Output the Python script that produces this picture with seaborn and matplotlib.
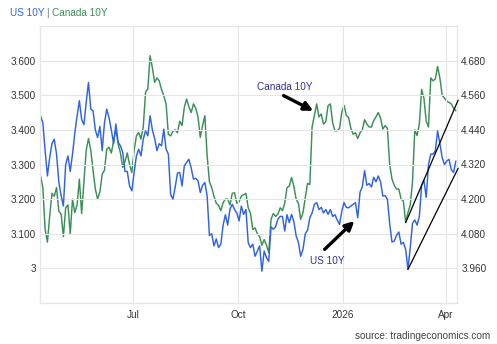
import numpy as np
import pandas as pd
import matplotlib
matplotlib.use('Agg')
import matplotlib.pyplot as plt
import seaborn as sns

# ---------------- data ----------------
start_date = '2025-04-11'
us_10y = [
    3.44, 3.42, 3.34, 3.267, 3.32, 3.36, 3.373, 3.33, 3.25, 3.21,
    3.18, 3.30, 3.325, 3.28, 3.33, 3.39, 3.44, 3.484, 3.43, 3.415,
    3.48, 3.537, 3.46, 3.455, 3.40, 3.378, 3.41, 3.34, 3.42, 3.46,
    3.435, 3.40, 3.36, 3.417, 3.364, 3.354, 3.335, 3.28, 3.28, 3.238,
    3.224, 3.277, 3.325, 3.344, 3.325, 3.373, 3.397, 3.383, 3.441, 3.40,
    3.375, 3.34, 3.36, 3.354, 3.402, 3.344, 3.33, 3.214, 3.20, 3.235,
    3.275, 3.277, 3.238, 3.296, 3.306, 3.315, 3.29, 3.258, 3.26, 3.253,
    3.219, 3.24, 3.248, 3.209, 3.095, 3.10, 3.065, 3.085, 3.06, 3.07,
    3.125, 3.155, 3.125, 3.171, 3.185, 3.17, 3.16, 3.137, 3.18, 3.156,
    3.17, 3.074, 3.06, 3.07, 3.035, 3.05, 3.065, 2.992, 3.05, 3.031,
    3.02, 3.12, 3.113, 3.12, 3.142, 3.15, 3.15, 3.108, 3.155, 3.132,
    3.156, 3.135, 3.094, 3.075, 3.035, 3.055, 3.10, 3.11, 3.146, 3.16,
    3.185, 3.19, 3.17, 3.176, 3.16, 3.17, 3.156, 3.17, 3.15, 3.155,
    3.14, 3.127, 3.165, 3.19, 3.176, 3.175, 3.18, 3.185, 3.19, 3.146,
    3.22, 3.235, 3.282, 3.24, 3.245, 3.235, 3.263, 3.25, 3.267, 3.25,
    3.209, 3.21, 3.20, 3.13, 3.076, 3.079, 3.095, 3.105, 3.07, 3.075,
    3.055, 2.997, 3.06, 3.13, 3.14, 3.125, 3.15, 3.24, 3.255, 3.205,
    3.30, 3.33, 3.33, 3.34, 3.397, 3.36, 3.32, 3.30, 3.31, 3.315,
    3.285, 3.277, 3.31,
]
canada_10y = [
    4.28, 4.24, 4.095, 4.051, 4.142, 4.22, 4.21, 4.24, 4.159, 4.148,
    4.07, 4.17, 4.18, 4.08, 4.20, 4.153, 4.18, 4.269, 4.15, 4.26,
    4.37, 4.41, 4.37, 4.30, 4.235, 4.20, 4.225, 4.286, 4.30, 4.373,
    4.38, 4.36, 4.40, 4.443, 4.39, 4.36, 4.31, 4.33, 4.36, 4.32,
    4.292, 4.37, 4.419, 4.431, 4.408, 4.45, 4.57, 4.582, 4.697, 4.655,
    4.605, 4.62, 4.61, 4.58, 4.558, 4.53, 4.425, 4.419, 4.435, 4.44,
    4.43, 4.47, 4.455, 4.518, 4.547, 4.52, 4.50, 4.53, 4.515, 4.485,
    4.414, 4.455, 4.489, 4.35, 4.26, 4.24, 4.21, 4.186, 4.178, 4.16,
    4.188, 4.20, 4.20, 4.18, 4.22, 4.222, 4.186, 4.19, 4.211, 4.215,
    4.22, 4.17, 4.15, 4.095, 4.10, 4.08, 4.07, 4.04, 4.06, 4.04,
    4.015, 4.13, 4.15, 4.14, 4.148, 4.17, 4.16, 4.186, 4.24, 4.245,
    4.275, 4.245, 4.20, 4.185, 4.13, 4.153, 4.205, 4.255, 4.25, 4.45,
    4.49, 4.53, 4.485, 4.495, 4.46, 4.468, 4.524, 4.53, 4.465, 4.437,
    4.437, 4.445, 4.50, 4.525, 4.49, 4.483, 4.445, 4.425, 4.43, 4.41,
    4.43, 4.44, 4.475, 4.46, 4.45, 4.45, 4.472, 4.485, 4.50, 4.48,
    4.443, 4.455, 4.445, 4.32, 4.27, 4.248, 4.235, 4.235, 4.20, 4.193,
    4.12, 4.153, 4.18, 4.26, 4.44, 4.42, 4.46, 4.58, 4.55, 4.47,
    4.45, 4.62, 4.61, 4.616, 4.66, 4.62, 4.56, 4.55, 4.54, 4.535,
    4.53, 4.515, 4.506,
]
dates = pd.date_range(start_date, periods=len(us_10y), freq='2D')

left_ticks = [3.0, 3.1, 3.2, 3.3, 3.4, 3.5, 3.6]
left_labels = ['3', '3.100', '3.200', '3.300', '3.400', '3.500', '3.600']
right_ticks = [3.96, 4.08, 4.20, 4.32, 4.44, 4.56, 4.68]
right_labels = ['3.960', '4.080', '4.200', '4.320', '4.440', '4.560', '4.680']
x_tick_dates = ['2025-07-01', '2025-10-01', '2026-01-01', '2026-04-01']
x_tick_labels = ['Jul', 'Oct', '2026', 'Apr']

# trend lines (in US-axis units)
trend_upper_dates = ['2026-02-25', '2026-04-12']
trend_upper_vals = [3.132, 3.486]
trend_lower_dates = ['2026-02-27', '2026-04-12']
trend_lower_vals = [2.997, 3.289]

# annotations (US-axis units)
ca_label_pos = ('2025-11-11', 3.524)
ca_arrow_tail = ('2025-11-10', 3.499)
ca_arrow_head = ('2025-12-06', 3.455)
us_label_pos = ('2025-12-18', 3.022)
us_arrow_tail = ('2025-12-16', 3.055)
us_arrow_head = ('2026-01-11', 3.137)

# ---------------- style ----------------
sns.set_theme(style='white')
plt.rcParams['font.family'] = ['Liberation Sans', 'DejaVu Sans']

US_COLOR = '#2f62e8'
CA_COLOR = '#3b8f58'
GRID = '#e6e6e6'
TXT = '#333333'

df = pd.DataFrame({'date': dates, 'US 10Y': us_10y, 'Canada 10Y': canada_10y})

fig = plt.figure(figsize=(4.97, 3.44), dpi=100)
ax = fig.add_axes([40/497, 1-303/344, 417/497, 277/344])
ax2 = ax.twinx()

sns.lineplot(data=df, x='date', y='US 10Y', ax=ax, color=US_COLOR, lw=1.05)
sns.lineplot(data=df, x='date', y='Canada 10Y', ax=ax2, color=CA_COLOR, lw=1.05)

ax.set_ylim(2.9, 3.70)
ax2.set_ylim(3.84, 4.80)
ax.set_xlim(pd.Timestamp('2025-04-10 12:00'), pd.Timestamp('2026-04-11'))

ax.set_yticks(left_ticks)
ax.set_yticklabels(left_labels)
ax2.set_yticks(right_ticks)
ax2.set_yticklabels(right_labels)
ax.set_xticks([pd.Timestamp(d) for d in x_tick_dates])
ax.set_xticklabels(x_tick_labels)

for a in (ax, ax2):
    a.set_xlabel('')
    a.set_ylabel('')
    for s in a.spines.values():
        s.set_color(GRID)
        s.set_linewidth(0.8)
ax.tick_params(axis='both', length=0, labelsize=7.2, labelcolor=TXT)
ax.tick_params(axis='y', pad=3)
ax.tick_params(axis='x', pad=5)
ax2.tick_params(axis='y', length=0, labelsize=7.2, labelcolor=TXT, pad=3)

ax.grid(True, color=GRID, lw=0.8)
ax.set_axisbelow(True)

# trend lines
ax.plot([pd.Timestamp(d) for d in trend_upper_dates], trend_upper_vals,
        color='black', lw=0.9, clip_on=False, zorder=5)
ax.plot([pd.Timestamp(d) for d in trend_lower_dates], trend_lower_vals,
        color='black', lw=0.9, clip_on=False, zorder=5)
ax.set_zorder(ax2.get_zorder() + 1)
ax.patch.set_visible(False)
ax2.patch.set_visible(True)
ax2.patch.set_facecolor('white')
ax2.set_zorder(ax.get_zorder() - 1)

def dt(p):
    return (pd.Timestamp(p[0]), p[1])

ANN = '#30309a'
ax.text(*dt(ca_label_pos), 'Canada 10Y', color=ANN, fontsize=7.2, ha='center', va='center')
ax.annotate('', xy=dt(ca_arrow_head), xytext=dt(ca_arrow_tail),
            arrowprops=dict(arrowstyle='-|>', color='black', lw=2.4, mutation_scale=13,
                            shrinkA=0, shrinkB=0))
ax.text(*dt(us_label_pos), 'US 10Y', color=ANN, fontsize=7.2, ha='center', va='center')
ax.annotate('', xy=dt(us_arrow_head), xytext=dt(us_arrow_tail),
            arrowprops=dict(arrowstyle='-|>', color='black', lw=2.4, mutation_scale=13,
                            shrinkA=0, shrinkB=0))

# header legend
fig.text(10/497, 1-13/344, 'US 10Y', color=US_COLOR, fontsize=7.2, ha='left', va='center')
fig.text(46.5/497, 1-13/344, '|', color='#666666', fontsize=7.2, ha='left', va='center')
fig.text(52/497, 1-13/344, 'Canada 10Y', color=CA_COLOR, fontsize=7.2, ha='left', va='center')

fig.text(490/497, 1-336/344, 'source: tradingeconomics.com', color='#444444', fontsize=7.2,
         ha='right', va='center')

fig.savefig('out.png', dpi=100)
